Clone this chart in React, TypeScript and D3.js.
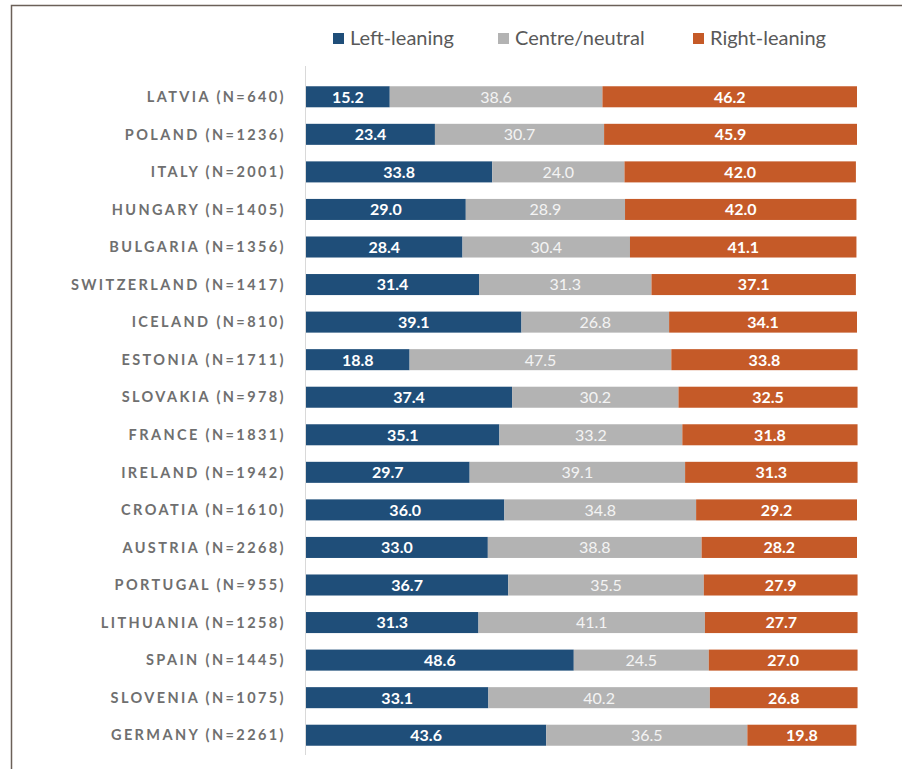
import { useEffect, useRef } from 'react';
import * as d3 from 'd3';

const countries = [
  'LATVIA (N=640)',
  'POLAND (N=1236)',
  'ITALY (N=2001)',
  'HUNGARY (N=1405)',
  'BULGARIA (N=1356)',
  'SWITZERLAND (N=1417)',
  'ICELAND (N=810)',
  'ESTONIA (N=1711)',
  'SLOVAKIA (N=978)',
  'FRANCE (N=1831)',
  'IRELAND (N=1942)',
  'CROATIA (N=1610)',
  'AUSTRIA (N=2268)',
  'PORTUGAL (N=955)',
  'LITHUANIA (N=1258)',
  'SPAIN (N=1445)',
  'SLOVENIA (N=1075)',
  'GERMANY (N=2261)'
];

const leftLeaning = [15.2, 23.4, 33.8, 29.0, 28.4, 31.4, 39.1, 18.8, 37.4, 35.1, 29.7, 36.0, 33.0, 36.7, 31.3, 48.6, 33.1, 43.6];
const centreNeutral = [38.6, 30.7, 24.0, 28.9, 30.4, 31.3, 26.8, 47.5, 30.2, 33.2, 39.1, 34.8, 38.8, 35.5, 41.1, 24.5, 40.2, 36.5];
const rightLeaning = [46.2, 45.9, 42.0, 42.0, 41.1, 37.1, 34.1, 33.8, 32.5, 31.8, 31.3, 29.2, 28.2, 27.9, 27.7, 27.0, 26.8, 19.8];

const seriesNames = ['Left-leaning', 'Centre/neutral', 'Right-leaning'];
const seriesColors = ['#1f4e79', '#b3b3b3', '#c55a28'];

type Row = { country: string; left: number; centre: number; right: number };

const WIDTH = 902;
const HEIGHT = 769;

export default function App() {
  const ref = useRef<SVGSVGElement | null>(null);

  useEffect(() => {
    if (!ref.current) return;
    const svg = d3.select(ref.current);
    svg.selectAll('*').remove();

    const data: Row[] = countries.map((c, i) => ({
      country: c,
      left: leftLeaning[i],
      centre: centreNeutral[i],
      right: rightLeaning[i]
    }));

    const font = 'Lato, "Open Sans", sans-serif';

    // frame
    svg
      .append('path')
      .attr('d', `M11.5,${HEIGHT} L11.5,5.5 L${WIDTH},5.5`)
      .attr('fill', 'none')
      .attr('stroke', '#6b6058')
      .attr('stroke-width', 1.5);

    const x = d3.scaleLinear().domain([0, 100]).range([306, 857]);
    const y = d3
      .scaleBand<string>()
      .domain(countries)
      .range([78, 754])
      .paddingInner(0.44)
      .paddingOuter(0.22);

    // axis line
    svg
      .append('line')
      .attr('x1', 305.5)
      .attr('x2', 305.5)
      .attr('y1', y.range()[0] - 12)
      .attr('y2', y.range()[1] + 1)
      .attr('stroke', '#d9d9d9')
      .attr('stroke-width', 1);

    const stack = d3.stack<Row>().keys(['left', 'centre', 'right']);
    const layers = stack(data);

    const g = svg.append('g');
    layers.forEach((layer, li) => {
      const grp = g.append('g');
      grp
        .selectAll('rect')
        .data(layer)
        .enter()
        .append('rect')
        .attr('x', (d) => x(d[0]))
        .attr('y', (d) => y(d.data.country) as number)
        .attr('width', (d) => x(d[1]) - x(d[0]))
        .attr('height', y.bandwidth())
        .attr('fill', seriesColors[li]);

      grp
        .selectAll('text')
        .data(layer)
        .enter()
        .append('text')
        .attr('x', (d) => (x(d[0]) + x(d[1])) / 2)
        .attr('y', (d) => (y(d.data.country) as number) + y.bandwidth() / 2)
        .attr('dy', '0.37em')
        .attr('text-anchor', 'middle')
        .style('font-family', font)
        .style('font-size', '16px')
        .style('font-weight', li === 1 ? 'normal' : 'bold')
        .style('fill', li === 1 ? '#f4f4f4' : '#ffffff')
        .text((d) => (d[1] - d[0]).toFixed(1));
    });

    // country labels
    svg
      .append('g')
      .selectAll('text')
      .data(countries)
      .enter()
      .append('text')
      .attr('x', 286)
      .attr('y', (d) => (y(d) as number) + y.bandwidth() / 2)
      .attr('dy', '0.36em')
      .attr('text-anchor', 'end')
      .style('font-family', font)
      .style('font-size', '14.5px')
      .style('font-weight', 'bold')
      .style('letter-spacing', '2.4px')
      .style('fill', '#6f6f6f')
      .text((d) => d);

    // legend
    const legendX = [333, 498, 693];
    const legend = svg.append('g');
    seriesNames.forEach((name, i) => {
      const item = legend.append('g').attr('transform', `translate(${legendX[i]}, 33)`);
      item.append('rect').attr('width', 11).attr('height', 11).attr('fill', seriesColors[i]);
      item
        .append('text')
        .attr('x', 17)
        .attr('y', 12)
        .style('font-family', font)
        .style('font-size', '20px')
        .style('fill', '#595959')
        .text(name);
    });
  }, []);

  return (
    <svg
      ref={ref}
      width={WIDTH}
      height={HEIGHT}
      style={{ position: 'absolute', left: 0, top: 0, background: '#ffffff' }}
    />
  );
}
